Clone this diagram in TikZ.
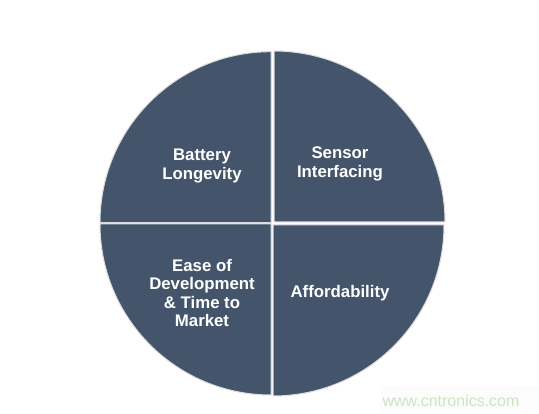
\documentclass[tikz,border=0pt]{standalone}
\usepackage{fontspec}
\setmainfont{Liberation Sans}
\definecolor{slate}{HTML}{44546A}
\definecolor{gapgray}{HTML}{DCDCDC}
\definecolor{wmgreen}{HTML}{C9E6C2}
\begin{document}
\begin{tikzpicture}[x=1pt,y=1pt,
  quad/.style={fill=slate,draw=gapgray,line width=1pt},
  lbl/.style={text=white,font=\fontsize{16.8}{18.6}\selectfont\bfseries,align=center}]
\useasboundingbox (0,0) rectangle (539,414);
\fill[white] (0,0) rectangle (539,414);
\fill[black!1] (380,0) rectangle (539,28);
% quadrants
\path[quad] (271,191.3) -- (100,191.3) arc[start angle=180,end angle=90,radius=171] -- cycle;
\path[quad] (274,192) -- (274,363) arc[start angle=90,end angle=0,radius=171] -- cycle;
\path[quad] (271,190) -- (271,19) arc[start angle=270,end angle=180,radius=171] -- cycle;
\path[quad] (273,189) -- (444,189) arc[start angle=0,end angle=-90,radius=171] -- cycle;
% labels
\node[lbl] (bat) at (202,248) {Battery\\Longevity};
\node[lbl] (sen) at (340,250) {Sensor\\Interfacing};
\node[lbl] (ease) at (202,121) {Ease of\\Development\\\& Time to\\Market};
\node[lbl] (aff) at (340,121) {Affordability};
\node[text=wmgreen,font=\fontsize{16}{18}\selectfont,anchor=base] (wm) at (451,7) {www.cntronics.com};
\end{tikzpicture}
\end{document}
